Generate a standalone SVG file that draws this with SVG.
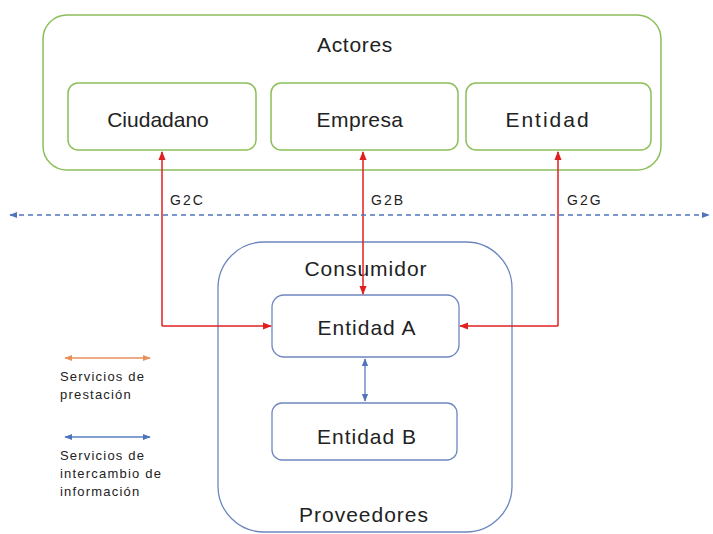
<svg xmlns="http://www.w3.org/2000/svg" width="713" height="534" viewBox="0 0 713 534">
<style>
.g{fill:#fff;stroke:#8cbf5a;stroke-width:1.5}
.b{fill:#fff;stroke:#6d87bf;stroke-width:1.3}
.t{font-family:"Liberation Sans",Arial,sans-serif;fill:#222;text-anchor:middle;font-size:21px}
.lg{font-family:"Liberation Sans",Arial,sans-serif;fill:#222;font-size:13px;letter-spacing:1.2px}
.gl{font-family:"Liberation Sans",Arial,sans-serif;fill:#222;font-size:14px;letter-spacing:2px}
.red{stroke:#e02020;stroke-width:1.5;fill:none}
.blu{stroke:#5a7fc0;stroke-width:1.3;fill:none}
</style>
<defs>
<marker id="ar" viewBox="0 0 10 10" refX="9" refY="5" markerWidth="6" markerHeight="6" orient="auto-start-reverse"><path d="M0,1 L10,5 L0,9z" fill="#e02020"/></marker>
<marker id="ab" viewBox="0 0 10 10" refX="9" refY="5" markerWidth="6" markerHeight="6" orient="auto-start-reverse"><path d="M0,1 L10,5 L0,9z" fill="#4f74bb"/></marker>
<marker id="ao" viewBox="0 0 10 10" refX="9" refY="5" markerWidth="6" markerHeight="6" orient="auto-start-reverse"><path d="M0,1 L10,5 L0,9z" fill="#e8915a"/></marker>
</defs>
<rect width="713" height="534" fill="#fff"/>
<g id="actores"><rect class="g" x="43" y="15" width="618" height="155" rx="24"/><text class="t" x="355" y="52" letter-spacing="0.7">Actores</text></g>
<g id="ciudadano"><rect class="g" x="68" y="83" width="188" height="67" rx="10"/><text class="t" x="158" y="127">Ciudadano</text></g>
<g id="empresa"><rect class="g" x="271" y="83" width="187" height="67" rx="10"/><text class="t" x="360" y="127" letter-spacing="0.4">Empresa</text></g>
<g id="entidad"><rect class="g" x="466" y="83" width="185" height="67" rx="10"/><text class="t" x="548" y="127" letter-spacing="2">Entidad</text></g>
<g id="consumidor"><rect class="b" x="218" y="242" width="294" height="290" rx="46"/><text class="t" x="366" y="276" letter-spacing="1">Consumidor</text><text class="t" x="364" y="522" letter-spacing="1">Proveedores</text></g>
<g id="entidadA"><rect class="b" x="272" y="295" width="187" height="62" rx="12"/><text class="t" x="367" y="335" letter-spacing="1">Entidad A</text></g>
<g id="entidadB"><rect class="b" x="272" y="403" width="185" height="57" rx="10"/><text class="t" x="367" y="444" letter-spacing="1">Entidad B</text></g>
<g id="connectors">
<path class="red" d="M162,326 V152" marker-end="url(#ar)"/>
<path class="red" d="M162,326 H271" marker-end="url(#ar)"/>
<path class="red" d="M363,152 V294" marker-start="url(#ar)" marker-end="url(#ar)"/>
<path class="red" d="M558,326 V152" marker-end="url(#ar)"/>
<path class="red" d="M558,326 H460" marker-end="url(#ar)"/>
<path class="blu" d="M365,359 V401" marker-start="url(#ab)" marker-end="url(#ab)"/>
<path stroke="#4f74bb" stroke-width="1.3" stroke-dasharray="5,4" fill="none" d="M10,215 H709" marker-start="url(#ab)" marker-end="url(#ab)"/>
<path stroke="#e8915a" stroke-width="1.3" fill="none" d="M65,358 H150" marker-start="url(#ao)" marker-end="url(#ao)"/>
<path class="blu" d="M65,437 H150" marker-start="url(#ab)" marker-end="url(#ab)"/>
</g>
<g id="labels">
<text class="gl" x="170" y="205">G2C</text>
<text class="gl" x="371" y="205">G2B</text>
<text class="gl" x="567" y="205">G2G</text>
<text class="lg" x="60" y="381">Servicios de</text>
<text class="lg" x="60" y="399">prestación</text>
<text class="lg" x="60" y="460">Servicios de</text>
<text class="lg" x="60" y="478">intercambio de</text>
<text class="lg" x="60" y="496">información</text>
</g>
</svg>
